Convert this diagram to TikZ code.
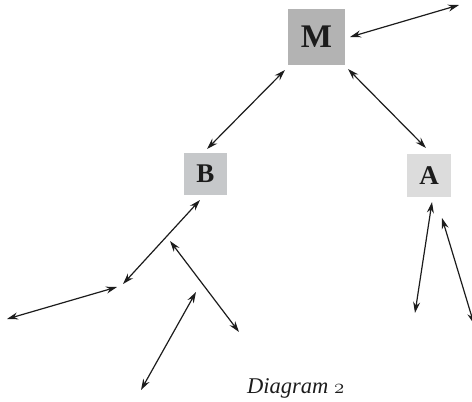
\documentclass[tikz,border=0pt]{standalone}
\usepackage{fontspec}
\setmainfont{Liberation Serif}
\usetikzlibrary{arrows.meta}
\definecolor{boxM}{HTML}{B3B3B3}
\definecolor{boxB}{HTML}{C6C8CA}
\definecolor{boxA}{HTML}{DCDCDC}
\definecolor{ink}{HTML}{1C1C1C}
\newcommand{\boxletter}[2]{{\fontsize{#1}{#1}\selectfont\bfseries #2}}
\tikzset{
  letterbox/.style={inner sep=0pt, text=ink},
  link/.style={draw=ink, line width=1.2pt,
    {Stealth[length=11pt,width=7pt]}-{Stealth[length=11pt,width=7pt]}},
}
\begin{document}
\begin{tikzpicture}[x=1pt,y=-1pt]
  \useasboundingbox (0,0) rectangle (472,402);
  % letter boxes
  \node[letterbox, fill=boxM, minimum width=57pt, minimum height=56pt] (M) at (316.5,37) {\boxletter{33}{M}};
  \node[letterbox, fill=boxB, minimum width=43pt, minimum height=42pt] (B) at (205.5,174) {\boxletter{27}{B}};
  \node[letterbox, fill=boxA, minimum width=44pt, minimum height=43pt] (A) at (429,175.5) {\boxletter{27}{A}};
  % free arrow ends
  \coordinate (m1) at (350,37);   \coordinate (m2) at (459,5);
  \coordinate (mb1) at (285,70);  \coordinate (mb2) at (207,149);
  \coordinate (ma1) at (348,69);  \coordinate (ma2) at (426,148);
  \coordinate (b1) at (200,200);  \coordinate (b2) at (123,284);
  \coordinate (l1) at (117,287);  \coordinate (l2) at (7,319);
  \coordinate (c1) at (170,241);  \coordinate (c2) at (239,332);
  \coordinate (d1) at (196,292);  \coordinate (d2) at (141,390);
  \coordinate (a1) at (432,202);  \coordinate (a2) at (415,313);
  \coordinate (e1) at (442,218);  \coordinate (e2) at (474,324);
  % connectors
  \draw[link] (m1) -- (m2);
  \draw[link] (mb1) -- (mb2);
  \draw[link] (ma1) -- (ma2);
  \draw[link] (b1) -- (b2);
  \draw[link] (l1) -- (l2);
  \draw[link] (c1) -- (c2);
  \draw[link] (d1) -- (d2);
  \draw[link] (a1) -- (a2);
  \draw[link] (e1) -- (e2);
  % caption
  \node[text=ink, anchor=base west, inner sep=0pt] (cap) at (247,393)
    {\fontsize{22.5}{24}\selectfont\itshape Diagram {\usefont{OML}{cmm}{m}{it}2}};
\end{tikzpicture}
\end{document}
